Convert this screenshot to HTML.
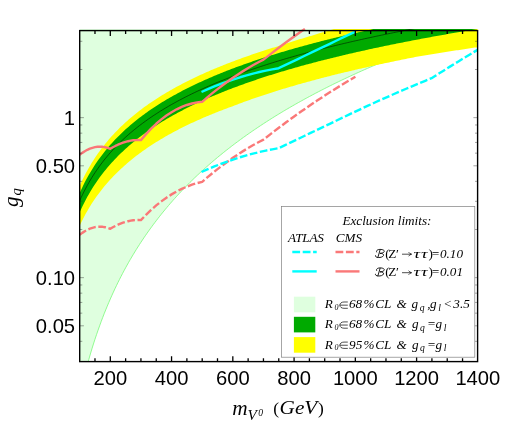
<!DOCTYPE html>
<html><head><meta charset="utf-8"><title>plot</title>
<style>
html,body{margin:0;padding:0;background:#fff;}
svg{display:block;}
text{font-family:"Liberation Serif",serif;fill:#000;}
.s{font-family:"Liberation Sans",sans-serif;font-size:20.2px;}
.i{font-style:italic;}
</style></head><body>
<svg width="515" height="428" viewBox="0 0 515 428">
<rect width="515" height="428" fill="#fff"/>
<defs><clipPath id="c"><rect x="79.70" y="29.10" width="397.90" height="332.50"/></clipPath></defs>
<g clip-path="url(#c)">
<path d="M79.67,395.98 L81.20,389.15 L82.73,382.64 L84.26,376.42 L85.80,370.47 L87.33,364.76 L88.86,359.27 L90.39,353.99 L91.92,348.90 L93.45,343.99 L94.98,339.25 L96.52,334.66 L98.05,330.22 L99.58,325.91 L101.11,321.73 L102.64,317.68 L104.17,313.74 L105.71,309.90 L107.24,306.17 L108.77,302.54 L110.30,298.99 L111.83,295.54 L113.36,292.17 L114.89,288.87 L116.43,285.66 L117.96,282.51 L119.49,279.44 L121.02,276.43 L122.55,273.48 L124.08,270.60 L125.62,267.77 L127.15,265.00 L128.68,262.28 L130.21,259.62 L131.74,257.00 L133.27,254.44 L134.80,251.92 L136.34,249.44 L137.87,247.01 L139.40,244.61 L140.93,242.26 L142.46,239.95 L143.99,237.67 L145.52,235.43 L147.06,233.23 L148.59,231.06 L150.12,228.93 L151.65,226.82 L153.18,224.75 L154.71,222.71 L156.25,220.69 L157.78,218.71 L159.31,216.75 L160.84,214.82 L162.37,212.92 L163.90,211.04 L165.43,209.19 L166.97,207.36 L168.50,205.55 L170.03,203.77 L171.56,202.01 L173.09,200.27 L174.62,198.55 L176.15,196.86 L177.69,195.18 L179.22,193.53 L180.75,191.89 L182.28,190.27 L183.81,188.67 L185.34,187.09 L186.88,185.53 L188.41,183.98 L189.94,182.45 L191.47,180.94 L193.00,179.44 L194.53,177.96 L196.06,176.50 L197.60,175.05 L199.13,173.61 L200.66,172.19 L202.19,170.79 L203.72,169.40 L205.25,168.02 L206.78,166.65 L208.32,165.30 L209.85,163.96 L211.38,162.63 L212.91,161.32 L214.44,160.02 L215.97,158.73 L217.50,157.45 L219.04,156.19 L220.57,154.93 L222.10,153.69 L223.63,152.45 L225.16,151.23 L226.69,150.02 L228.23,148.82 L229.76,147.63 L231.29,146.45 L232.82,145.28 L234.35,144.12 L235.88,142.96 L237.41,141.82 L238.95,140.69 L240.48,139.57 L242.01,138.45 L243.54,137.34 L245.07,136.25 L246.60,135.16 L248.13,134.08 L249.67,133.01 L251.20,131.94 L252.73,130.89 L254.26,129.84 L255.79,128.80 L257.32,127.76 L258.86,126.74 L260.39,125.72 L261.92,124.71 L263.45,123.71 L264.98,122.71 L266.51,121.72 L268.04,120.74 L269.58,119.77 L271.11,118.80 L272.64,117.84 L274.17,116.88 L275.70,115.93 L277.23,114.99 L278.76,114.05 L280.30,113.13 L281.83,112.20 L283.36,111.28 L284.89,110.37 L286.42,109.47 L287.95,108.57 L289.49,107.67 L291.02,106.78 L292.55,105.90 L294.08,105.02 L295.61,104.15 L297.14,103.29 L298.67,102.43 L300.21,101.57 L301.74,100.72 L303.27,99.87 L304.80,99.03 L306.33,98.20 L307.86,97.37 L309.40,96.54 L310.93,95.72 L312.46,94.91 L313.99,94.09 L315.52,93.29 L317.05,92.49 L318.58,91.69 L320.12,90.90 L321.65,90.11 L323.18,89.32 L324.71,88.54 L326.24,87.77 L327.77,87.00 L329.30,86.23 L330.84,85.47 L332.37,84.71 L333.90,83.96 L335.43,83.21 L336.96,82.46 L338.49,81.72 L340.03,80.98 L341.56,80.25 L343.09,79.51 L344.62,78.79 L346.15,78.06 L347.68,77.35 L349.21,76.63 L350.75,75.92 L352.28,75.21 L353.81,74.50 L355.34,73.80 L356.87,73.10 L358.40,72.41 L359.93,71.72 L361.47,71.03 L363.00,70.35 L364.53,69.67 L366.06,68.99 L367.59,68.31 L369.12,67.64 L370.66,66.98 L372.19,66.31 L373.72,65.65 L375.25,64.99 L376.78,64.34 L378.31,63.68 L379.84,63.03 L381.38,62.39 L382.91,61.74 L384.44,61.10 L385.97,60.47 L387.50,59.83 L389.03,59.20 L390.56,58.57 L392.10,57.95 L393.63,57.32 L395.16,56.70 L396.69,56.08 L398.22,55.47 L399.75,54.86 L401.29,54.25 L402.82,53.64 L404.35,53.04 L405.88,52.43 L407.41,51.83 L408.94,51.24 L410.47,50.64 L412.01,50.05 L413.54,49.46 L415.07,48.88 L416.60,48.29 L418.13,47.71 L419.66,47.13 L421.19,46.55 L422.73,45.98 L424.26,45.41 L425.79,44.84 L427.32,44.27 L428.85,43.70 L430.38,43.14 L431.92,42.58 L433.45,42.02 L434.98,41.47 L436.51,40.91 L438.04,40.36 L439.57,39.81 L441.10,39.26 L442.64,38.72 L444.17,38.17 L445.70,37.63 L447.23,37.09 L448.76,36.56 L450.29,36.02 L451.82,35.49 L453.36,34.96 L454.89,34.43 L456.42,33.90 L457.95,33.38 L459.48,32.85 L461.01,32.33 L462.55,31.81 L464.08,31.29 L465.61,30.78 L467.14,30.27 L468.67,29.75 L470.20,29.24 L471.73,28.74 L473.27,28.23 L474.80,27.73 L476.33,27.22 L477.86,26.72 L477.60,25.60 L79.70,25.60 L79.70,366.60Z" fill="#dfffdf"/>
<path d="M79.67,395.98 L81.20,389.15 L82.73,382.64 L84.26,376.42 L85.80,370.47 L87.33,364.76 L88.86,359.27 L90.39,353.99 L91.92,348.90 L93.45,343.99 L94.98,339.25 L96.52,334.66 L98.05,330.22 L99.58,325.91 L101.11,321.73 L102.64,317.68 L104.17,313.74 L105.71,309.90 L107.24,306.17 L108.77,302.54 L110.30,298.99 L111.83,295.54 L113.36,292.17 L114.89,288.87 L116.43,285.66 L117.96,282.51 L119.49,279.44 L121.02,276.43 L122.55,273.48 L124.08,270.60 L125.62,267.77 L127.15,265.00 L128.68,262.28 L130.21,259.62 L131.74,257.00 L133.27,254.44 L134.80,251.92 L136.34,249.44 L137.87,247.01 L139.40,244.61 L140.93,242.26 L142.46,239.95 L143.99,237.67 L145.52,235.43 L147.06,233.23 L148.59,231.06 L150.12,228.93 L151.65,226.82 L153.18,224.75 L154.71,222.71 L156.25,220.69 L157.78,218.71 L159.31,216.75 L160.84,214.82 L162.37,212.92 L163.90,211.04 L165.43,209.19 L166.97,207.36 L168.50,205.55 L170.03,203.77 L171.56,202.01 L173.09,200.27 L174.62,198.55 L176.15,196.86 L177.69,195.18 L179.22,193.53 L180.75,191.89 L182.28,190.27 L183.81,188.67 L185.34,187.09 L186.88,185.53 L188.41,183.98 L189.94,182.45 L191.47,180.94 L193.00,179.44 L194.53,177.96 L196.06,176.50 L197.60,175.05 L199.13,173.61 L200.66,172.19 L202.19,170.79 L203.72,169.40 L205.25,168.02 L206.78,166.65 L208.32,165.30 L209.85,163.96 L211.38,162.63 L212.91,161.32 L214.44,160.02 L215.97,158.73 L217.50,157.45 L219.04,156.19 L220.57,154.93 L222.10,153.69 L223.63,152.45 L225.16,151.23 L226.69,150.02 L228.23,148.82 L229.76,147.63 L231.29,146.45 L232.82,145.28 L234.35,144.12 L235.88,142.96 L237.41,141.82 L238.95,140.69 L240.48,139.57 L242.01,138.45 L243.54,137.34 L245.07,136.25 L246.60,135.16 L248.13,134.08 L249.67,133.01 L251.20,131.94 L252.73,130.89 L254.26,129.84 L255.79,128.80 L257.32,127.76 L258.86,126.74 L260.39,125.72 L261.92,124.71 L263.45,123.71 L264.98,122.71 L266.51,121.72 L268.04,120.74 L269.58,119.77 L271.11,118.80 L272.64,117.84 L274.17,116.88 L275.70,115.93 L277.23,114.99 L278.76,114.05 L280.30,113.13 L281.83,112.20 L283.36,111.28 L284.89,110.37 L286.42,109.47 L287.95,108.57 L289.49,107.67 L291.02,106.78 L292.55,105.90 L294.08,105.02 L295.61,104.15 L297.14,103.29 L298.67,102.43 L300.21,101.57 L301.74,100.72 L303.27,99.87 L304.80,99.03 L306.33,98.20 L307.86,97.37 L309.40,96.54 L310.93,95.72 L312.46,94.91 L313.99,94.09 L315.52,93.29 L317.05,92.49 L318.58,91.69 L320.12,90.90 L321.65,90.11 L323.18,89.32 L324.71,88.54 L326.24,87.77 L327.77,87.00 L329.30,86.23 L330.84,85.47 L332.37,84.71 L333.90,83.96 L335.43,83.21 L336.96,82.46 L338.49,81.72 L340.03,80.98 L341.56,80.25 L343.09,79.51 L344.62,78.79 L346.15,78.06 L347.68,77.35 L349.21,76.63 L350.75,75.92 L352.28,75.21 L353.81,74.50 L355.34,73.80 L356.87,73.10 L358.40,72.41 L359.93,71.72 L361.47,71.03 L363.00,70.35 L364.53,69.67 L366.06,68.99 L367.59,68.31 L369.12,67.64 L370.66,66.98 L372.19,66.31 L373.72,65.65 L375.25,64.99 L376.78,64.34 L378.31,63.68 L379.84,63.03 L381.38,62.39 L382.91,61.74 L384.44,61.10 L385.97,60.47 L387.50,59.83 L389.03,59.20 L390.56,58.57 L392.10,57.95 L393.63,57.32 L395.16,56.70 L396.69,56.08 L398.22,55.47 L399.75,54.86 L401.29,54.25 L402.82,53.64 L404.35,53.04 L405.88,52.43 L407.41,51.83 L408.94,51.24 L410.47,50.64 L412.01,50.05 L413.54,49.46 L415.07,48.88 L416.60,48.29 L418.13,47.71 L419.66,47.13 L421.19,46.55 L422.73,45.98 L424.26,45.41 L425.79,44.84 L427.32,44.27 L428.85,43.70 L430.38,43.14 L431.92,42.58 L433.45,42.02 L434.98,41.47 L436.51,40.91 L438.04,40.36 L439.57,39.81 L441.10,39.26 L442.64,38.72 L444.17,38.17 L445.70,37.63 L447.23,37.09 L448.76,36.56 L450.29,36.02 L451.82,35.49 L453.36,34.96 L454.89,34.43 L456.42,33.90 L457.95,33.38 L459.48,32.85 L461.01,32.33 L462.55,31.81 L464.08,31.29 L465.61,30.78 L467.14,30.27 L468.67,29.75 L470.20,29.24 L471.73,28.74 L473.27,28.23 L474.80,27.73 L476.33,27.22 L477.86,26.72" fill="none" stroke="#78fa78" stroke-width="0.8"/>
<path d="M79.67,185.99 L81.20,182.60 L82.73,179.37 L84.26,176.28 L85.80,173.32 L87.33,170.48 L88.86,167.76 L90.39,165.14 L91.92,162.61 L93.45,160.17 L94.98,157.82 L96.52,155.54 L98.05,153.33 L99.58,151.19 L101.11,149.12 L102.64,147.10 L104.17,145.15 L105.71,143.24 L107.24,141.39 L108.77,139.59 L110.30,137.83 L111.83,136.11 L113.36,134.44 L114.89,132.80 L116.43,131.20 L117.96,129.64 L119.49,128.11 L121.02,126.62 L122.55,125.16 L124.08,123.72 L125.62,122.32 L127.15,120.94 L128.68,119.59 L130.21,118.27 L131.74,116.97 L133.27,115.70 L134.80,114.45 L136.34,113.22 L137.87,112.01 L139.40,110.82 L140.93,109.65 L142.46,108.50 L143.99,107.37 L145.52,106.26 L147.06,105.17 L148.59,104.09 L150.12,103.03 L151.65,101.98 L153.18,100.95 L154.71,99.94 L156.25,98.94 L157.78,97.95 L159.31,96.98 L160.84,96.02 L162.37,95.08 L163.90,94.15 L165.43,93.23 L166.97,92.32 L168.50,91.42 L170.03,90.54 L171.56,89.66 L173.09,88.80 L174.62,87.95 L176.15,87.10 L177.69,86.27 L179.22,85.45 L180.75,84.64 L182.28,83.83 L183.81,83.04 L185.34,82.25 L186.88,81.48 L188.41,80.71 L189.94,79.95 L191.47,79.20 L193.00,78.45 L194.53,77.72 L196.06,76.99 L197.60,76.27 L199.13,75.56 L200.66,74.85 L202.19,74.16 L203.72,73.46 L205.25,72.78 L206.78,72.10 L208.32,71.43 L209.85,70.77 L211.38,70.11 L212.91,69.45 L214.44,68.81 L215.97,68.17 L217.50,67.53 L219.04,66.90 L220.57,66.28 L222.10,65.66 L223.63,65.05 L225.16,64.44 L226.69,63.84 L228.23,63.25 L229.76,62.65 L231.29,62.07 L232.82,61.49 L234.35,60.91 L235.88,60.34 L237.41,59.77 L238.95,59.21 L240.48,58.65 L242.01,58.10 L243.54,57.55 L245.07,57.00 L246.60,56.46 L248.13,55.92 L249.67,55.39 L251.20,54.86 L252.73,54.34 L254.26,53.82 L255.79,53.30 L257.32,52.79 L258.86,52.28 L260.39,51.77 L261.92,51.27 L263.45,50.77 L264.98,50.28 L266.51,49.79 L268.04,49.30 L269.58,48.82 L271.11,48.34 L272.64,47.86 L274.17,47.38 L275.70,46.91 L277.23,46.45 L278.76,45.98 L280.30,45.47 L281.83,44.96 L283.36,44.46 L284.89,43.96 L286.42,43.46 L287.95,42.96 L289.49,42.47 L291.02,41.99 L292.55,41.50 L294.08,41.02 L295.61,40.54 L297.14,40.06 L298.67,39.59 L300.21,39.12 L301.74,38.65 L303.27,38.19 L304.80,37.73 L306.33,37.27 L307.86,36.81 L309.40,36.36 L310.93,35.88 L312.46,35.41 L313.99,34.93 L315.52,34.46 L317.05,33.99 L318.58,33.53 L320.12,33.07 L321.65,32.61 L323.18,32.15 L324.71,31.69 L326.24,31.24 L327.77,30.79 L329.30,30.34 L330.84,29.90 L332.37,29.46 L333.90,29.02 L335.43,28.65 L336.96,28.28 L338.49,27.91 L340.03,27.54 L341.56,27.18 L343.09,26.81 L344.62,26.45 L346.15,26.09 L347.68,25.74 L349.21,25.38 L350.75,25.03 L352.28,24.67 L353.81,24.32 L355.34,23.98 L356.87,23.63 L358.40,23.28 L359.93,22.94 L361.47,22.60 L363.00,22.26 L364.53,21.92 L366.06,21.59 L367.59,21.25 L369.12,20.92 L370.66,20.59 L372.19,20.26 L373.72,19.93 L375.25,19.60 L376.78,19.27 L378.31,18.95 L379.84,18.63 L381.38,18.31 L382.91,17.99 L384.44,17.67 L385.97,17.35 L387.50,17.04 L389.03,16.72 L390.56,16.41 L392.10,16.10 L393.63,15.79 L395.16,15.48 L396.69,15.18 L398.22,14.87 L399.75,14.57 L401.29,14.26 L402.82,13.96 L404.35,13.66 L405.88,13.36 L407.41,13.07 L408.94,12.77 L410.47,12.48 L412.01,12.18 L413.54,11.89 L415.07,11.60 L416.60,11.31 L418.13,11.02 L419.66,10.73 L421.19,10.44 L422.73,10.16 L424.26,9.87 L425.79,9.59 L427.32,9.31 L428.85,9.03 L430.38,8.75 L431.92,8.47 L433.45,8.19 L434.98,7.92 L436.51,7.64 L438.04,7.37 L439.57,7.09 L441.10,6.82 L442.64,6.55 L444.17,6.28 L445.70,6.01 L447.23,5.75 L448.76,5.48 L450.29,5.21 L451.82,4.95 L453.36,4.68 L454.89,4.42 L456.42,4.16 L457.95,3.90 L459.48,3.64 L461.01,3.38 L462.55,3.12 L464.08,2.87 L465.61,2.61 L467.14,2.36 L468.67,2.10 L470.20,1.85 L471.73,1.60 L473.27,1.34 L474.80,1.09 L476.33,0.84 L477.86,0.60 L477.86,47.15 L476.33,47.38 L474.80,47.60 L473.27,47.83 L471.73,48.06 L470.20,48.28 L468.67,48.51 L467.14,48.74 L465.61,48.97 L464.08,49.20 L462.55,49.43 L461.01,49.67 L459.48,49.90 L457.95,50.13 L456.42,50.37 L454.89,50.60 L453.36,50.84 L451.82,51.08 L450.29,51.32 L448.76,51.56 L447.23,51.80 L445.70,52.04 L444.17,52.28 L442.64,52.52 L441.10,52.77 L439.57,53.01 L438.04,53.26 L436.51,53.51 L434.98,53.76 L433.45,54.01 L431.92,54.26 L430.38,54.51 L428.85,54.76 L427.32,55.01 L425.79,55.27 L424.26,55.52 L422.73,55.78 L421.19,56.04 L419.66,56.30 L418.13,56.56 L416.60,56.82 L415.07,57.11 L413.54,57.41 L412.01,57.71 L410.47,58.02 L408.94,58.32 L407.41,58.62 L405.88,58.93 L404.35,59.24 L402.82,59.54 L401.29,59.85 L399.75,60.17 L398.22,60.48 L396.69,60.79 L395.16,61.11 L393.63,61.42 L392.10,61.74 L390.56,62.06 L389.03,62.38 L387.50,62.70 L385.97,63.03 L384.44,63.35 L382.91,63.68 L381.38,64.01 L379.84,64.34 L378.31,64.67 L376.78,65.00 L375.25,65.34 L373.72,65.67 L372.19,66.01 L370.66,66.35 L369.12,66.69 L367.59,67.03 L366.06,67.38 L364.53,67.72 L363.00,68.07 L361.47,68.42 L359.93,68.77 L358.40,69.12 L356.87,69.48 L355.34,69.83 L353.81,70.19 L352.28,70.55 L350.75,70.91 L349.21,71.27 L347.68,71.63 L346.15,72.00 L344.62,72.36 L343.09,72.73 L341.56,73.11 L340.03,73.48 L338.49,73.85 L336.96,74.23 L335.43,74.61 L333.90,74.99 L332.37,75.37 L330.84,75.76 L329.30,76.15 L327.77,76.53 L326.24,76.93 L324.71,77.32 L323.18,77.72 L321.65,78.11 L320.12,78.51 L318.58,78.92 L317.05,79.32 L315.52,79.73 L313.99,80.14 L312.46,80.55 L310.93,80.96 L309.40,81.38 L307.86,81.80 L306.33,82.22 L304.80,82.65 L303.27,83.07 L301.74,83.50 L300.21,83.93 L298.67,84.37 L297.14,84.81 L295.61,85.25 L294.08,85.69 L292.55,86.13 L291.02,86.58 L289.49,87.03 L287.95,87.49 L286.42,87.95 L284.89,88.41 L283.36,88.87 L281.83,89.33 L280.30,89.80 L278.76,90.28 L277.23,90.75 L275.70,91.23 L274.17,91.71 L272.64,92.20 L271.11,92.69 L269.58,93.18 L268.04,93.67 L266.51,94.17 L264.98,94.67 L263.45,95.18 L261.92,95.69 L260.39,96.20 L258.86,96.72 L257.32,97.24 L255.79,97.76 L254.26,98.29 L252.73,98.83 L251.20,99.36 L249.67,99.90 L248.13,100.45 L246.60,101.00 L245.07,101.55 L243.54,102.11 L242.01,102.67 L240.48,103.24 L238.95,103.81 L237.41,104.38 L235.88,104.96 L234.35,105.55 L232.82,106.14 L231.29,106.69 L229.76,107.26 L228.23,107.82 L226.69,108.40 L225.16,108.97 L223.63,109.55 L222.10,110.14 L220.57,110.73 L219.04,111.33 L217.50,111.93 L215.97,112.54 L214.44,113.16 L212.91,113.78 L211.38,114.40 L209.85,115.03 L208.32,115.67 L206.78,116.31 L205.25,116.96 L203.72,117.62 L202.19,118.28 L200.66,118.95 L199.13,119.63 L197.60,120.31 L196.06,121.00 L194.53,121.70 L193.00,122.41 L191.47,123.12 L189.94,123.84 L188.41,124.57 L186.88,125.31 L185.34,126.05 L183.81,126.80 L182.28,127.56 L180.75,128.34 L179.22,129.11 L177.69,129.90 L176.15,130.70 L174.62,131.51 L173.09,132.33 L171.56,133.16 L170.03,134.00 L168.50,134.85 L166.97,135.72 L165.43,136.59 L163.90,137.48 L162.37,138.38 L160.84,139.29 L159.31,140.21 L157.78,141.15 L156.25,142.10 L154.71,143.06 L153.18,144.04 L151.65,145.04 L150.12,146.04 L148.59,147.07 L147.06,148.10 L145.52,149.16 L143.99,150.23 L142.46,151.32 L140.93,152.43 L139.40,153.55 L137.87,154.70 L136.34,155.87 L134.80,157.05 L133.27,158.26 L131.74,159.49 L130.21,160.74 L128.68,162.02 L127.15,163.32 L125.62,164.65 L124.08,166.00 L122.55,167.38 L121.02,168.79 L119.49,170.24 L117.96,171.71 L116.43,173.22 L114.89,174.76 L113.36,176.33 L111.83,177.95 L110.30,179.60 L108.77,181.29 L107.24,183.02 L105.71,184.79 L104.17,186.62 L102.64,188.49 L101.11,190.42 L99.58,192.41 L98.05,194.46 L96.52,196.57 L94.98,198.76 L93.45,201.01 L91.92,203.35 L90.39,205.77 L88.86,208.29 L87.33,210.90 L85.80,213.62 L84.26,216.45 L82.73,219.41 L81.20,222.51 L79.67,225.76Z" fill="#ffff00"/>
<path d="M79.67,193.02 L81.20,189.63 L82.73,186.40 L84.26,183.31 L85.80,180.35 L87.33,177.52 L88.86,174.79 L90.39,172.17 L91.92,169.64 L93.45,167.20 L94.98,164.85 L96.52,162.57 L98.05,160.36 L99.58,158.23 L101.11,156.15 L102.64,154.14 L104.17,152.18 L105.71,150.28 L107.24,148.42 L108.77,146.62 L110.30,144.86 L111.83,143.14 L113.36,141.47 L114.89,139.83 L116.43,138.24 L117.96,136.67 L119.49,135.15 L121.02,133.65 L122.55,132.19 L124.08,130.76 L125.62,129.35 L127.15,127.98 L128.68,126.63 L130.21,125.30 L131.74,124.01 L133.27,122.73 L134.80,121.48 L136.34,120.25 L137.87,119.04 L139.40,117.85 L140.93,116.68 L142.46,115.54 L143.99,114.41 L145.52,113.29 L147.06,112.20 L148.59,111.12 L150.12,110.06 L151.65,109.02 L153.18,107.99 L154.71,106.97 L156.25,105.97 L157.78,104.99 L159.31,104.01 L160.84,103.06 L162.37,102.11 L163.90,101.18 L165.43,100.26 L166.97,99.35 L168.50,98.45 L170.03,97.57 L171.56,96.69 L173.09,95.83 L174.62,94.98 L176.15,94.14 L177.69,93.30 L179.22,92.48 L180.75,91.67 L182.28,90.87 L183.81,90.07 L185.34,89.29 L186.88,88.51 L188.41,87.74 L189.94,86.98 L191.47,86.23 L193.00,85.49 L194.53,84.75 L196.06,84.02 L197.60,83.30 L199.13,82.59 L200.66,81.89 L202.19,81.19 L203.72,80.50 L205.25,79.81 L206.78,79.13 L208.32,78.46 L209.85,77.80 L211.38,77.14 L212.91,76.49 L214.44,75.84 L215.97,75.20 L217.50,74.57 L219.04,73.94 L220.57,73.31 L222.10,72.70 L223.63,72.08 L225.16,71.48 L226.69,70.87 L228.23,70.28 L229.76,69.69 L231.29,69.10 L232.82,68.52 L234.35,67.94 L235.88,67.37 L237.41,66.80 L238.95,66.24 L240.48,65.68 L242.01,65.13 L243.54,64.58 L245.07,64.03 L246.60,63.49 L248.13,62.96 L249.67,62.42 L251.20,61.90 L252.73,61.37 L254.26,60.85 L255.79,60.33 L257.32,59.82 L258.86,59.31 L260.39,58.81 L261.92,58.31 L263.45,57.81 L264.98,57.31 L266.51,56.82 L268.04,56.33 L269.58,55.85 L271.11,55.37 L272.64,54.89 L274.17,54.42 L275.70,53.95 L277.23,53.48 L278.76,53.01 L280.30,52.55 L281.83,52.09 L283.36,51.64 L284.89,51.18 L286.42,50.74 L287.95,50.29 L289.49,49.84 L291.02,49.40 L292.55,48.96 L294.08,48.53 L295.61,48.10 L297.14,47.67 L298.67,47.24 L300.21,46.81 L301.74,46.39 L303.27,45.97 L304.80,45.55 L306.33,45.14 L307.86,44.73 L309.40,44.32 L310.93,43.91 L312.46,43.50 L313.99,43.10 L315.52,42.70 L317.05,42.30 L318.58,41.91 L320.12,41.51 L321.65,41.12 L323.18,40.73 L324.71,40.34 L326.24,39.96 L327.77,39.58 L329.30,39.20 L330.84,38.82 L332.37,38.44 L333.90,38.07 L335.43,37.69 L336.96,37.32 L338.49,36.95 L340.03,36.59 L341.56,36.22 L343.09,35.86 L344.62,35.50 L346.15,35.14 L347.68,34.78 L349.21,34.43 L350.75,34.07 L352.28,33.72 L353.81,33.37 L355.34,33.02 L356.87,32.68 L358.40,32.33 L359.93,31.99 L361.47,31.65 L363.00,31.31 L364.53,30.97 L366.06,30.63 L367.59,30.30 L369.12,29.96 L370.66,29.63 L372.19,29.30 L373.72,28.97 L375.25,28.65 L376.78,28.32 L378.31,28.00 L379.84,27.68 L381.38,27.35 L382.91,27.04 L384.44,26.72 L385.97,26.40 L387.50,26.09 L389.03,25.77 L390.56,25.46 L392.10,25.15 L393.63,24.84 L395.16,24.53 L396.69,24.22 L398.22,23.92 L399.75,23.61 L401.29,23.31 L402.82,23.01 L404.35,22.71 L405.88,22.41 L407.41,22.11 L408.94,21.82 L410.47,21.52 L412.01,21.23 L413.54,20.94 L415.07,20.64 L416.60,20.35 L418.13,20.07 L419.66,19.78 L421.19,19.49 L422.73,19.21 L424.26,18.92 L425.79,18.64 L427.32,18.36 L428.85,18.08 L430.38,17.80 L431.92,17.52 L433.45,17.24 L434.98,16.96 L436.51,16.69 L438.04,16.41 L439.57,16.14 L441.10,15.87 L442.64,15.60 L444.17,15.33 L445.70,15.06 L447.23,14.79 L448.76,14.53 L450.29,14.26 L451.82,14.00 L453.36,13.73 L454.89,13.47 L456.42,13.21 L457.95,12.95 L459.48,12.69 L461.01,12.43 L462.55,12.17 L464.08,11.91 L465.61,11.66 L467.14,11.40 L468.67,11.15 L470.20,10.89 L471.73,10.64 L473.27,10.39 L474.80,10.14 L476.33,9.89 L477.86,9.64 L477.86,28.95 L476.33,29.20 L474.80,29.45 L473.27,29.70 L471.73,29.96 L470.20,30.21 L468.67,30.46 L467.14,30.72 L465.61,30.97 L464.08,31.23 L462.55,31.49 L461.01,31.75 L459.48,32.01 L457.95,32.27 L456.42,32.53 L454.89,32.79 L453.36,33.06 L451.82,33.32 L450.29,33.59 L448.76,33.86 L447.23,34.12 L445.70,34.39 L444.17,34.66 L442.64,34.93 L441.10,35.21 L439.57,35.48 L438.04,35.75 L436.51,36.03 L434.98,36.31 L433.45,36.58 L431.92,36.86 L430.38,37.14 L428.85,37.42 L427.32,37.71 L425.79,37.99 L424.26,38.27 L422.73,38.56 L421.19,38.84 L419.66,39.13 L418.13,39.42 L416.60,39.71 L415.07,40.00 L413.54,40.30 L412.01,40.59 L410.47,40.89 L408.94,41.18 L407.41,41.48 L405.88,41.78 L404.35,42.08 L402.82,42.38 L401.29,42.68 L399.75,42.99 L398.22,43.29 L396.69,43.60 L395.16,43.91 L393.63,44.22 L392.10,44.53 L390.56,44.84 L389.03,45.15 L387.50,45.47 L385.97,45.79 L384.44,46.10 L382.91,46.42 L381.38,46.74 L379.84,47.07 L378.31,47.39 L376.78,47.72 L375.25,48.04 L373.72,48.37 L372.19,48.70 L370.66,49.03 L369.12,49.37 L367.59,49.70 L366.06,50.04 L364.53,50.38 L363.00,50.72 L361.47,51.06 L359.93,51.40 L358.40,51.74 L356.87,52.09 L355.34,52.44 L353.81,52.79 L352.28,53.14 L350.75,53.49 L349.21,53.85 L347.68,54.21 L346.15,54.57 L344.62,54.93 L343.09,55.29 L341.56,55.65 L340.03,56.02 L338.49,56.39 L336.96,56.76 L335.43,57.13 L333.90,57.51 L332.37,57.88 L330.84,58.26 L329.30,58.64 L327.77,59.02 L326.24,59.41 L324.71,59.79 L323.18,60.18 L321.65,60.57 L320.12,60.97 L318.58,61.36 L317.05,61.76 L315.52,62.16 L313.99,62.56 L312.46,62.97 L310.93,63.38 L309.40,63.78 L307.86,64.20 L306.33,64.61 L304.80,65.03 L303.27,65.45 L301.74,65.87 L300.21,66.29 L298.67,66.72 L297.14,67.15 L295.61,67.58 L294.08,68.02 L292.55,68.45 L291.02,68.89 L289.49,69.34 L287.95,69.78 L286.42,70.23 L284.89,70.68 L283.36,71.14 L281.83,71.60 L280.30,72.06 L278.76,72.52 L277.23,72.99 L275.70,73.46 L274.17,73.93 L272.64,74.41 L271.11,74.89 L269.58,75.37 L268.04,75.86 L266.51,76.35 L264.98,76.84 L263.45,77.34 L261.92,77.84 L260.39,78.34 L258.86,78.85 L257.32,79.36 L255.79,79.88 L254.26,80.40 L252.73,80.92 L251.20,81.45 L249.67,81.98 L248.13,82.51 L246.60,83.05 L245.07,83.59 L243.54,84.14 L242.01,84.69 L240.48,85.25 L238.95,85.81 L237.41,86.38 L235.88,86.95 L234.35,87.52 L232.82,88.10 L231.29,88.68 L229.76,89.26 L228.23,89.85 L226.69,90.45 L225.16,91.05 L223.63,91.66 L222.10,92.27 L220.57,92.88 L219.04,93.50 L217.50,94.13 L215.97,94.77 L214.44,95.40 L212.91,96.05 L211.38,96.70 L209.85,97.36 L208.32,98.02 L206.78,98.69 L205.25,99.37 L203.72,100.05 L202.19,100.74 L200.66,101.44 L199.13,102.14 L197.60,102.85 L196.06,103.57 L194.53,104.30 L193.00,105.03 L191.47,105.77 L189.94,106.52 L188.41,107.28 L186.88,108.05 L185.34,108.82 L183.81,109.60 L182.28,110.40 L180.75,111.20 L179.22,112.01 L177.69,112.83 L176.15,113.66 L174.62,114.50 L173.09,115.35 L171.56,116.21 L170.03,117.08 L168.50,117.97 L166.97,118.86 L165.43,119.77 L163.90,120.69 L162.37,121.62 L160.84,122.56 L159.31,123.52 L157.78,124.49 L156.25,125.47 L154.71,126.47 L153.18,127.48 L151.65,128.51 L150.12,129.55 L148.59,130.61 L147.06,131.68 L145.52,132.78 L143.99,133.89 L142.46,135.01 L140.93,136.16 L139.40,137.32 L137.87,138.51 L136.34,139.72 L134.80,140.94 L133.27,142.19 L131.74,143.46 L130.21,144.76 L128.68,146.08 L127.15,147.43 L125.62,148.80 L124.08,150.20 L122.55,151.63 L121.02,153.09 L119.49,154.58 L117.96,156.11 L116.43,157.66 L114.89,159.26 L113.36,160.89 L111.83,162.56 L110.30,164.27 L108.77,166.03 L107.24,167.83 L105.71,169.68 L104.17,171.58 L102.64,173.53 L101.11,175.54 L99.58,177.61 L98.05,179.74 L96.52,181.94 L94.98,184.22 L93.45,186.57 L91.92,189.00 L90.39,191.52 L88.86,194.14 L87.33,196.86 L85.80,199.69 L84.26,202.64 L82.73,205.72 L81.20,208.95 L79.67,212.33Z" fill="#00aa00"/>
<path d="M79.67,200.85 L81.20,197.46 L82.73,194.23 L84.26,191.14 L85.80,188.18 L87.33,185.34 L88.86,182.62 L90.39,180.00 L91.92,177.47 L93.45,175.03 L94.98,172.67 L96.52,170.40 L98.05,168.19 L99.58,166.05 L101.11,163.98 L102.64,161.96 L104.17,160.01 L105.71,158.10 L107.24,156.25 L108.77,154.44 L110.30,152.68 L111.83,150.97 L113.36,149.29 L114.89,147.66 L116.43,146.06 L117.96,144.50 L119.49,142.97 L121.02,141.48 L122.55,140.02 L124.08,138.58 L125.62,137.18 L127.15,135.80 L128.68,134.45 L130.21,133.13 L131.74,131.83 L133.27,130.56 L134.80,129.30 L136.34,128.07 L137.87,126.87 L139.40,125.68 L140.93,124.51 L142.46,123.36 L143.99,122.23 L145.52,121.12 L147.06,120.02 L148.59,118.95 L150.12,117.89 L151.65,116.84 L153.18,115.81 L154.71,114.80 L156.25,113.80 L157.78,112.81 L159.31,111.84 L160.84,110.88 L162.37,109.94 L163.90,109.00 L165.43,108.08 L166.97,107.18 L168.50,106.28 L170.03,105.39 L171.56,104.52 L173.09,103.66 L174.62,102.80 L176.15,101.96 L177.69,101.13 L179.22,100.31 L180.75,99.49 L182.28,98.69 L183.81,97.90 L185.34,97.11 L186.88,96.33 L188.41,95.57 L189.94,94.81 L191.47,94.06 L193.00,93.31 L194.53,92.58 L196.06,91.85 L197.60,91.13 L199.13,90.42 L200.66,89.71 L202.19,89.01 L203.72,88.32 L205.25,87.64 L206.78,86.96 L208.32,86.29 L209.85,85.62 L211.38,84.96 L212.91,84.31 L214.44,83.67 L215.97,83.03 L217.50,82.39 L219.04,81.76 L220.57,81.14 L222.10,80.52 L223.63,79.91 L225.16,79.30 L226.69,78.70 L228.23,78.10 L229.76,77.51 L231.29,76.93 L232.82,76.34 L234.35,75.77 L235.88,75.20 L237.41,74.63 L238.95,74.07 L240.48,73.51 L242.01,72.95 L243.54,72.41 L245.07,71.86 L246.60,71.32 L248.13,70.78 L249.67,70.25 L251.20,69.72 L252.73,69.20 L254.26,68.68 L255.79,68.16 L257.32,67.65 L258.86,67.14 L260.39,66.63 L261.92,66.13 L263.45,65.63 L264.98,65.14 L266.51,64.65 L268.04,64.16 L269.58,63.68 L271.11,63.19 L272.64,62.72 L274.17,62.24 L275.70,61.77 L277.23,61.30 L278.76,60.84 L280.30,60.38 L281.83,59.92 L283.36,59.46 L284.89,59.01 L286.42,58.56 L287.95,58.11 L289.49,57.67 L291.02,57.23 L292.55,56.79 L294.08,56.35 L295.61,55.92 L297.14,55.49 L298.67,55.06 L300.21,54.64 L301.74,54.22 L303.27,53.80 L304.80,53.38 L306.33,52.96 L307.86,52.55 L309.40,52.14 L310.93,51.73 L312.46,51.33 L313.99,50.93 L315.52,50.53 L317.05,50.13 L318.58,49.73 L320.12,49.34 L321.65,48.95 L323.18,48.56 L324.71,48.17 L326.24,47.79 L327.77,47.40 L329.30,47.02 L330.84,46.64 L332.37,46.27 L333.90,45.89 L335.43,45.52 L336.96,45.15 L338.49,44.78 L340.03,44.41 L341.56,44.05 L343.09,43.69 L344.62,43.32 L346.15,42.97 L347.68,42.61 L349.21,42.25 L350.75,41.90 L352.28,41.55 L353.81,41.20 L355.34,40.85 L356.87,40.50 L358.40,40.16 L359.93,39.81 L361.47,39.47 L363.00,39.13 L364.53,38.79 L366.06,38.46 L367.59,38.12 L369.12,37.79 L370.66,37.46 L372.19,37.13 L373.72,36.80 L375.25,36.47 L376.78,36.15 L378.31,35.82 L379.84,35.50 L381.38,35.18 L382.91,34.86 L384.44,34.54 L385.97,34.23 L387.50,33.91 L389.03,33.60 L390.56,33.28 L392.10,32.97 L393.63,32.66 L395.16,32.36 L396.69,32.05 L398.22,31.74 L399.75,31.44 L401.29,31.14 L402.82,30.84 L404.35,30.54 L405.88,30.24 L407.41,29.94 L408.94,29.64 L410.47,29.35 L412.01,29.05 L413.54,28.76 L415.07,28.47 L416.60,28.18 L418.13,27.89 L419.66,27.60 L421.19,27.32 L422.73,27.03 L424.26,26.75 L425.79,26.46 L427.32,26.18 L428.85,25.90 L430.38,25.62 L431.92,25.34 L433.45,25.07 L434.98,24.79 L436.51,24.51 L438.04,24.24 L439.57,23.97 L441.10,23.70 L442.64,23.42 L444.17,23.15 L445.70,22.89 L447.23,22.62 L448.76,22.35 L450.29,22.09 L451.82,21.82 L453.36,21.56 L454.89,21.29 L456.42,21.03 L457.95,20.77 L459.48,20.51 L461.01,20.25 L462.55,20.00 L464.08,19.74 L465.61,19.48 L467.14,19.23 L468.67,18.97 L470.20,18.72 L471.73,18.47 L473.27,18.22 L474.80,17.97 L476.33,17.72 L477.86,17.47" fill="none" stroke="#000" stroke-width="0.5"/>
<path d="M79.70,234.80 L82.25,232.88 L84.80,231.22 L87.35,229.82 L89.90,228.68 L92.45,227.79 L95.00,227.16 L97.55,226.79 L100.10,226.68 L102.65,226.82 L105.20,227.22 L107.75,227.88 L110.30,228.80 L112.85,227.31 L115.40,225.95 L117.95,224.72 L120.50,223.63 L123.05,222.68 L125.60,221.87 L128.15,221.20 L130.70,220.68 L133.25,220.30 L135.80,220.08 L138.35,220.01 L140.90,220.10 L146.01,214.78 L151.12,209.89 L156.22,205.42 L161.33,201.35 L166.44,197.68 L171.55,194.38 L176.66,191.45 L181.77,188.87 L186.88,186.63 L191.98,184.71 L197.09,183.11 L202.20,181.80 L207.31,177.41 L212.42,173.18 L217.52,169.11 L222.63,165.20 L227.74,161.44 L232.85,157.85 L237.96,154.41 L243.07,151.13 L248.18,148.01 L253.28,145.05 L258.39,142.24 L263.50,139.60 L271.16,133.62 L278.82,127.77 L286.48,122.06 L294.13,116.49 L301.79,111.05 L304.90,108.90 L309.45,105.75 L317.11,100.58 L324.77,95.55 L332.42,90.66 L340.08,85.91 L347.74,81.28 L355.40,76.80" fill="none" stroke="#fa7878" stroke-width="2.4" stroke-dasharray="7.7 2.6" stroke-linejoin="round"/>
<path d="M201.50,172.00 L207.93,169.15 L214.37,166.46 L220.80,163.93 L227.23,161.55 L233.67,159.33 L240.10,157.27 L246.53,155.37 L252.97,153.62 L259.40,152.03 L265.83,150.59 L272.27,149.32 L278.70,148.20 L285.08,145.15 L291.47,142.10 L297.85,139.05 L304.23,136.00 L310.62,132.95 L317.00,129.90 L323.38,126.85 L329.77,123.80 L336.15,120.75 L342.53,117.70 L348.92,114.65 L355.30,111.60 L361.66,108.61 L368.02,105.67 L374.38,102.75 L380.73,99.88 L387.09,97.04 L393.45,94.24 L399.81,91.47 L406.17,88.75 L412.53,86.05 L418.88,83.40 L425.24,80.78 L431.60,78.20 L435.43,75.76 L439.27,73.34 L443.10,70.93 L446.93,68.53 L450.77,66.14 L454.60,63.77 L458.43,61.41 L462.27,59.06 L466.10,56.73 L469.93,54.41 L473.77,52.10 L477.60,49.80" fill="none" stroke="#00ffff" stroke-width="2.4" stroke-dasharray="7.7 2.6" stroke-linejoin="round"/>
<path d="M201.50,92.00 L207.93,89.15 L214.37,86.46 L220.80,83.93 L227.23,81.55 L233.67,79.33 L240.10,77.27 L246.53,75.37 L252.97,73.62 L259.40,72.03 L265.83,70.59 L272.27,69.32 L278.70,68.20 L285.08,65.15 L291.47,62.10 L297.85,59.05 L304.23,56.00 L310.62,52.95 L317.00,49.90 L323.38,46.85 L329.77,43.80 L336.15,40.75 L342.53,37.70 L348.92,34.65 L355.30,31.60" fill="none" stroke="#00ffff" stroke-width="2.4" stroke-linejoin="round"/>
</g>
<path d="M79.70,154.80 L82.25,152.88 L84.80,151.22 L87.35,149.82 L89.90,148.68 L92.45,147.79 L95.00,147.16 L97.55,146.79 L100.10,146.68 L102.65,146.82 L105.20,147.22 L107.75,147.88 L110.30,148.80 L112.85,147.31 L115.40,145.95 L117.95,144.72 L120.50,143.63 L123.05,142.68 L125.60,141.87 L128.15,141.20 L130.70,140.68 L133.25,140.30 L135.80,140.08 L138.35,140.01 L140.90,140.10 L146.01,134.11 L151.12,128.67 L156.22,123.77 L161.33,119.40 L166.44,115.54 L171.55,112.18 L176.66,109.31 L181.77,106.91 L186.88,104.98 L191.98,103.49 L197.09,102.43 L202.20,101.80 L207.31,97.41 L212.42,93.18 L217.52,89.11 L222.63,85.20 L227.74,81.44 L232.85,77.85 L237.96,74.41 L243.07,71.13 L248.18,68.01 L253.28,65.05 L258.39,62.24 L263.50,59.60 L271.16,53.62 L278.82,47.77 L286.48,42.06 L294.13,36.49 L301.79,31.05 L304.90,28.90" fill="none" stroke="#fa7878" stroke-width="2.4" stroke-linejoin="round"/>

<path d="M94.98,361.60v-3.3 M94.98,30.60v3.3 M110.30,361.60v-5.3 M110.30,30.60v5.3 M125.62,361.60v-3.3 M125.62,30.60v3.3 M140.93,361.60v-3.3 M140.93,30.60v3.3 M156.25,361.60v-3.3 M156.25,30.60v3.3 M171.56,361.60v-5.3 M171.56,30.60v5.3 M186.88,361.60v-3.3 M186.88,30.60v3.3 M202.19,361.60v-3.3 M202.19,30.60v3.3 M217.50,361.60v-3.3 M217.50,30.60v3.3 M232.82,361.60v-5.3 M232.82,30.60v5.3 M248.13,361.60v-3.3 M248.13,30.60v3.3 M263.45,361.60v-3.3 M263.45,30.60v3.3 M278.76,361.60v-3.3 M278.76,30.60v3.3 M294.08,361.60v-5.3 M294.08,30.60v5.3 M309.40,361.60v-3.3 M309.40,30.60v3.3 M324.71,361.60v-3.3 M324.71,30.60v3.3 M340.03,361.60v-3.3 M340.03,30.60v3.3 M355.34,361.60v-5.3 M355.34,30.60v5.3 M370.66,361.60v-3.3 M370.66,30.60v3.3 M385.97,361.60v-3.3 M385.97,30.60v3.3 M401.29,361.60v-3.3 M401.29,30.60v3.3 M416.60,361.60v-5.3 M416.60,30.60v5.3 M431.92,361.60v-3.3 M431.92,30.60v3.3 M447.23,361.60v-3.3 M447.23,30.60v3.3 M462.55,361.60v-3.3 M462.55,30.60v3.3" stroke="#000" stroke-width="1.3" fill="none"/>
<path d="M79.70,341.32h2.6 M477.60,341.32h-2.6 M79.70,325.81h4.2 M477.60,325.81h-4.2 M79.70,313.15h2.6 M477.60,313.15h-2.6 M79.70,302.43h2.6 M477.60,302.43h-2.6 M79.70,293.16h2.6 M477.60,293.16h-2.6 M79.70,284.97h2.6 M477.60,284.97h-2.6 M79.70,277.65h4.2 M477.60,277.65h-4.2 M79.70,229.49h2.6 M477.60,229.49h-2.6 M79.70,201.31h2.6 M477.60,201.31h-2.6 M79.70,181.32h2.6 M477.60,181.32h-2.6 M79.70,165.81h4.2 M477.60,165.81h-4.2 M79.70,153.15h2.6 M477.60,153.15h-2.6 M79.70,142.43h2.6 M477.60,142.43h-2.6 M79.70,133.16h2.6 M477.60,133.16h-2.6 M79.70,124.97h2.6 M477.60,124.97h-2.6 M79.70,117.65h4.2 M477.60,117.65h-4.2 M79.70,69.49h2.6 M477.60,69.49h-2.6 M79.70,41.31h2.6 M477.60,41.31h-2.6" stroke="#333" stroke-width="0.45" fill="none"/>
<rect x="79.70" y="30.60" width="397.90" height="331.00" fill="none" stroke="#000" stroke-width="1.4"/>
<rect x="281.5" y="206.4" width="193.3" height="150.8" fill="#fff" stroke="#808080" stroke-width="0.7"/>
<path d="M292.3,252H316.7" stroke="#00ffff" stroke-width="2.4" stroke-dasharray="7.8 2.6"/>
<path d="M335.5,252H359.5" stroke="#fa7878" stroke-width="2.4" stroke-dasharray="7.8 2.6"/>
<path d="M292.3,271.4H316.7" stroke="#00ffff" stroke-width="2.4"/>
<path d="M335.5,271.4H359.5" stroke="#fa7878" stroke-width="2.4"/>
<rect x="293.9" y="296.7" width="21.4" height="15.6" fill="#dfffdf"/>
<rect x="293.9" y="316.8" width="21.4" height="15.6" fill="#00aa00"/>
<rect x="293.9" y="337.1" width="21.4" height="15.6" fill="#ffff00"/>
<g opacity="0.999">
<text class="s" x="110.30" y="385" text-anchor="middle">200</text>
<text class="s" x="171.56" y="385" text-anchor="middle">400</text>
<text class="s" x="232.82" y="385" text-anchor="middle">600</text>
<text class="s" x="294.08" y="385" text-anchor="middle">800</text>
<text class="s" x="355.34" y="385" text-anchor="middle">1000</text>
<text class="s" x="416.60" y="385" text-anchor="middle">1200</text>
<text class="s" x="477.86" y="385" text-anchor="middle">1400</text>
<text class="s" x="75.1" y="125.15" text-anchor="end">1</text>
<text class="s" x="75.1" y="173.31" text-anchor="end">0.50</text>
<text class="s" x="75.1" y="285.15" text-anchor="end">0.10</text>
<text class="s" x="75.1" y="333.31" text-anchor="end">0.05</text>
<g transform="translate(232.2,414.5) scale(1.05,1)"><text class="i" x="0" y="0" font-size="20.3">m</text></g>
<text class="i" x="247.60" y="420.4" font-size="15.3">V</text>
<text class="i" x="258.23" y="416.0" font-size="9.6">0</text>
<text x="273.14" y="414.3" font-size="17.4">(</text>
<g transform="translate(279.6,414.4) scale(1.07,1)"><text class="i" x="0" y="0" font-size="19.8">GeV</text></g>
<text x="318.04" y="414.3" font-size="17.4">)</text>
<g transform="translate(17.8,207) rotate(-90)"><text class="i" x="0" y="0" font-size="21">g</text><text class="i" x="11.5" y="3" font-size="14.5">q</text></g>
<text class="i" x="342.45" y="224.8" font-size="13.2">Exclusion limits:</text>
<text class="i" x="287.92" y="241.6" font-size="13.2" letter-spacing="-0.25">ATLAS</text>
<text class="i" x="335.67" y="241.6" font-size="13.2">CMS</text>
<path transform="translate(374.9,257.5)" d="M5.2,-7.7 L3.0,-0.2 M1.7,-5.5 C0.8,-7.4 3.5,-8.3 6.2,-8.05 C8.8,-7.8 10.1,-6.7 9.0,-5.4 C8.2,-4.5 6.5,-4.2 5.0,-4.15 C7.5,-4.2 9.0,-3.3 8.6,-2.0 C8.1,-0.5 5.5,0.1 3.5,0 C1.5,-0.1 0.2,-0.7 0.5,-1.8" fill="none" stroke="#000" stroke-width="0.9" stroke-linecap="round"/>
<text x="385.32" y="257.5" font-size="13.2">(</text>
<text x="388.17" y="257.5" font-size="13.2">Z</text>
<text x="395.95" y="257.5" font-size="13.2">′</text>
<path d="M402,254.20H411.4 M408.6,252.10Q409.6,253.80 411.6,254.20Q409.6,254.60 408.6,256.30" fill="none" stroke="#000" stroke-width="0.7"/>
<text class="i" x="413.6" y="257.5" font-size="13.2" textLength="6.6" lengthAdjust="spacingAndGlyphs">τ</text>
<text class="i" x="420.9" y="257.5" font-size="13.2" textLength="6.6" lengthAdjust="spacingAndGlyphs">τ</text>
<text x="428.57" y="257.5" font-size="13.2">)</text>
<text class="i" x="431.00" y="257.5" font-size="13.2">=0.10</text>
<path transform="translate(374.9,276.0)" d="M5.2,-7.7 L3.0,-0.2 M1.7,-5.5 C0.8,-7.4 3.5,-8.3 6.2,-8.05 C8.8,-7.8 10.1,-6.7 9.0,-5.4 C8.2,-4.5 6.5,-4.2 5.0,-4.15 C7.5,-4.2 9.0,-3.3 8.6,-2.0 C8.1,-0.5 5.5,0.1 3.5,0 C1.5,-0.1 0.2,-0.7 0.5,-1.8" fill="none" stroke="#000" stroke-width="0.9" stroke-linecap="round"/>
<text x="385.32" y="276.0" font-size="13.2">(</text>
<text x="388.17" y="276.0" font-size="13.2">Z</text>
<text x="395.95" y="276.0" font-size="13.2">′</text>
<path d="M402,272.70H411.4 M408.6,270.60Q409.6,272.30 411.6,272.70Q409.6,273.10 408.6,274.80" fill="none" stroke="#000" stroke-width="0.7"/>
<text class="i" x="413.6" y="276.0" font-size="13.2" textLength="6.6" lengthAdjust="spacingAndGlyphs">τ</text>
<text class="i" x="420.9" y="276.0" font-size="13.2" textLength="6.6" lengthAdjust="spacingAndGlyphs">τ</text>
<text x="428.57" y="276.0" font-size="13.2">)</text>
<text class="i" x="431.00" y="276.0" font-size="13.2">=0.01</text>
<text class="i" x="324.77" y="308.4" font-size="13.2">R</text>
<text class="i" x="334.49" y="310.29999999999995" font-size="8.0">0</text>
<path transform="translate(339.4,308.30)" d="M8.4,-6.3 H4.6 C2.2,-6.3 0.4,-5.0 0.4,-3.15 C0.4,-1.3 2.2,0 4.6,0 H8.4 M0.4,-3.15 H8.4" fill="none" stroke="#000" stroke-width="0.7"/>
<text class="i" x="348.97" y="308.4" font-size="13.2">68</text>
<text class="i" x="363.55" y="308.4" font-size="13.2">%</text>
<text class="i" x="375.17" y="308.4" font-size="13.2">CL</text>
<text class="i" x="396.44" y="308.4" font-size="13.2">&amp;</text>
<text class="i" x="411.39" y="308.4" font-size="13.2">g</text>
<text class="i" x="419.68" y="311.2" font-size="9.6">q</text>
<text class="i" x="427.26" y="308.4" font-size="13.2">,</text>
<text class="i" x="429.99" y="308.4" font-size="13.2">g</text>
<text class="i" x="438.29" y="311.2" font-size="9.6">l</text>
<text class="i" x="443.30" y="308.4" font-size="13.2">&lt;</text>
<text class="i" x="453.32" y="308.4" font-size="13.2">3.5</text>
<text class="i" x="324.77" y="328.3" font-size="13.2">R</text>
<text class="i" x="334.49" y="330.2" font-size="8.0">0</text>
<path transform="translate(339.4,328.20)" d="M8.4,-6.3 H4.6 C2.2,-6.3 0.4,-5.0 0.4,-3.15 C0.4,-1.3 2.2,0 4.6,0 H8.4 M0.4,-3.15 H8.4" fill="none" stroke="#000" stroke-width="0.7"/>
<text class="i" x="348.97" y="328.3" font-size="13.2">68</text>
<text class="i" x="363.55" y="328.3" font-size="13.2">%</text>
<text class="i" x="375.17" y="328.3" font-size="13.2">CL</text>
<text class="i" x="396.44" y="328.3" font-size="13.2">&amp;</text>
<text class="i" x="411.89" y="328.3" font-size="13.2">g</text>
<text class="i" x="419.88" y="331.1" font-size="9.6">q</text>
<text class="i" x="427.00" y="328.3" font-size="13.2">=</text>
<text class="i" x="435.49" y="328.3" font-size="13.2">g</text>
<text class="i" x="443.69" y="331.1" font-size="9.6">l</text>
<text class="i" x="324.77" y="348.5" font-size="13.2">R</text>
<text class="i" x="334.49" y="350.4" font-size="8.0">0</text>
<path transform="translate(339.4,348.40)" d="M8.4,-6.3 H4.6 C2.2,-6.3 0.4,-5.0 0.4,-3.15 C0.4,-1.3 2.2,0 4.6,0 H8.4 M0.4,-3.15 H8.4" fill="none" stroke="#000" stroke-width="0.7"/>
<text class="i" x="349.11" y="348.5" font-size="13.2">95</text>
<text class="i" x="363.55" y="348.5" font-size="13.2">%</text>
<text class="i" x="375.17" y="348.5" font-size="13.2">CL</text>
<text class="i" x="396.44" y="348.5" font-size="13.2">&amp;</text>
<text class="i" x="411.89" y="348.5" font-size="13.2">g</text>
<text class="i" x="419.88" y="351.3" font-size="9.6">q</text>
<text class="i" x="427.00" y="348.5" font-size="13.2">=</text>
<text class="i" x="435.49" y="348.5" font-size="13.2">g</text>
<text class="i" x="443.69" y="351.3" font-size="9.6">l</text>
</g>
</svg></body></html>
